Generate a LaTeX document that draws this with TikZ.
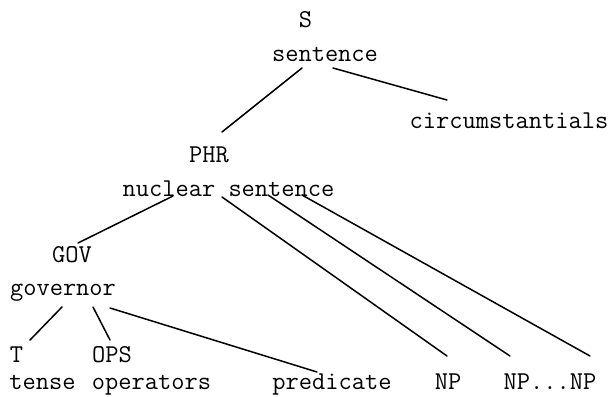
\documentclass[tikz,border=0pt]{standalone}
\begin{document}
\begin{tikzpicture}[x=1pt,y=-1pt,
  lbl/.style={anchor=base,inner sep=0pt,outer sep=0pt,font=\fontsize{25.7}{30}\selectfont\ttfamily},
  edge/.style={line width=1.5pt,line cap=round}]
\useasboundingbox[fill=white] (0,0) rectangle (615,396);
% nodes
\node[lbl] (s)     at (305.5,28) {S};
\node[lbl] (sent)  at (325,62)   {sentence};
\node[lbl] (circ)  at (509,128)  {circumstantials};
\node[lbl] (phr)   at (209,162)  {PHR};
\node[lbl] (nuc)   at (228.5,196) {nuclear sentence};
\node[lbl] (gov)   at (72,262)   {GOV};
\node[lbl] (govn)  at (63,295)   {governor};
\node[lbl] (t)     at (16.5,362) {T};
\node[lbl] (ops)   at (112,362)  {OPS};
\node[lbl] (tense) at (42.5,389) {tense};
\node[lbl] (oper)  at (151.5,389) {operators};
\node[lbl] (pred)  at (332,389)  {predicate};
\node[lbl] (np1)   at (448,389)  {NP};
\node[lbl] (npn)   at (550,389)  {NP...NP};
% connectors
\draw[edge] ([shift={(-23,6)}]sent.base) -- ([shift={(13,-30)}]phr.base);
\draw[edge] ([shift={(8,6)}]sent.base) -- ([shift={(-62,-28)}]circ.base);
\draw[edge] ([shift={(-55.5,0)}]nuc.base) -- ([shift={(6,-19)}]gov.base);
\draw[edge] ([shift={(-6.5,1)}]nuc.base) -- ([shift={(-1,-33)}]np1.base);
\draw[edge] ([shift={(39.5,-1)}]nuc.base) -- ([shift={(-40,-33)}]npn.base);
\draw[edge] ([shift={(73.5,-1)}]nuc.base) -- ([shift={(40,-33)}]npn.base);
\draw[edge] ([shift={(-1,12)}]govn.base) -- ([shift={(13.5,-22)}]t.base);
\draw[edge] ([shift={(30,12)}]govn.base) -- ([shift={(-2,-22)}]ops.base);
\draw[edge] ([shift={(47,13)}]govn.base) -- ([shift={(-15,-17)}]pred.base);
\end{tikzpicture}
\end{document}
